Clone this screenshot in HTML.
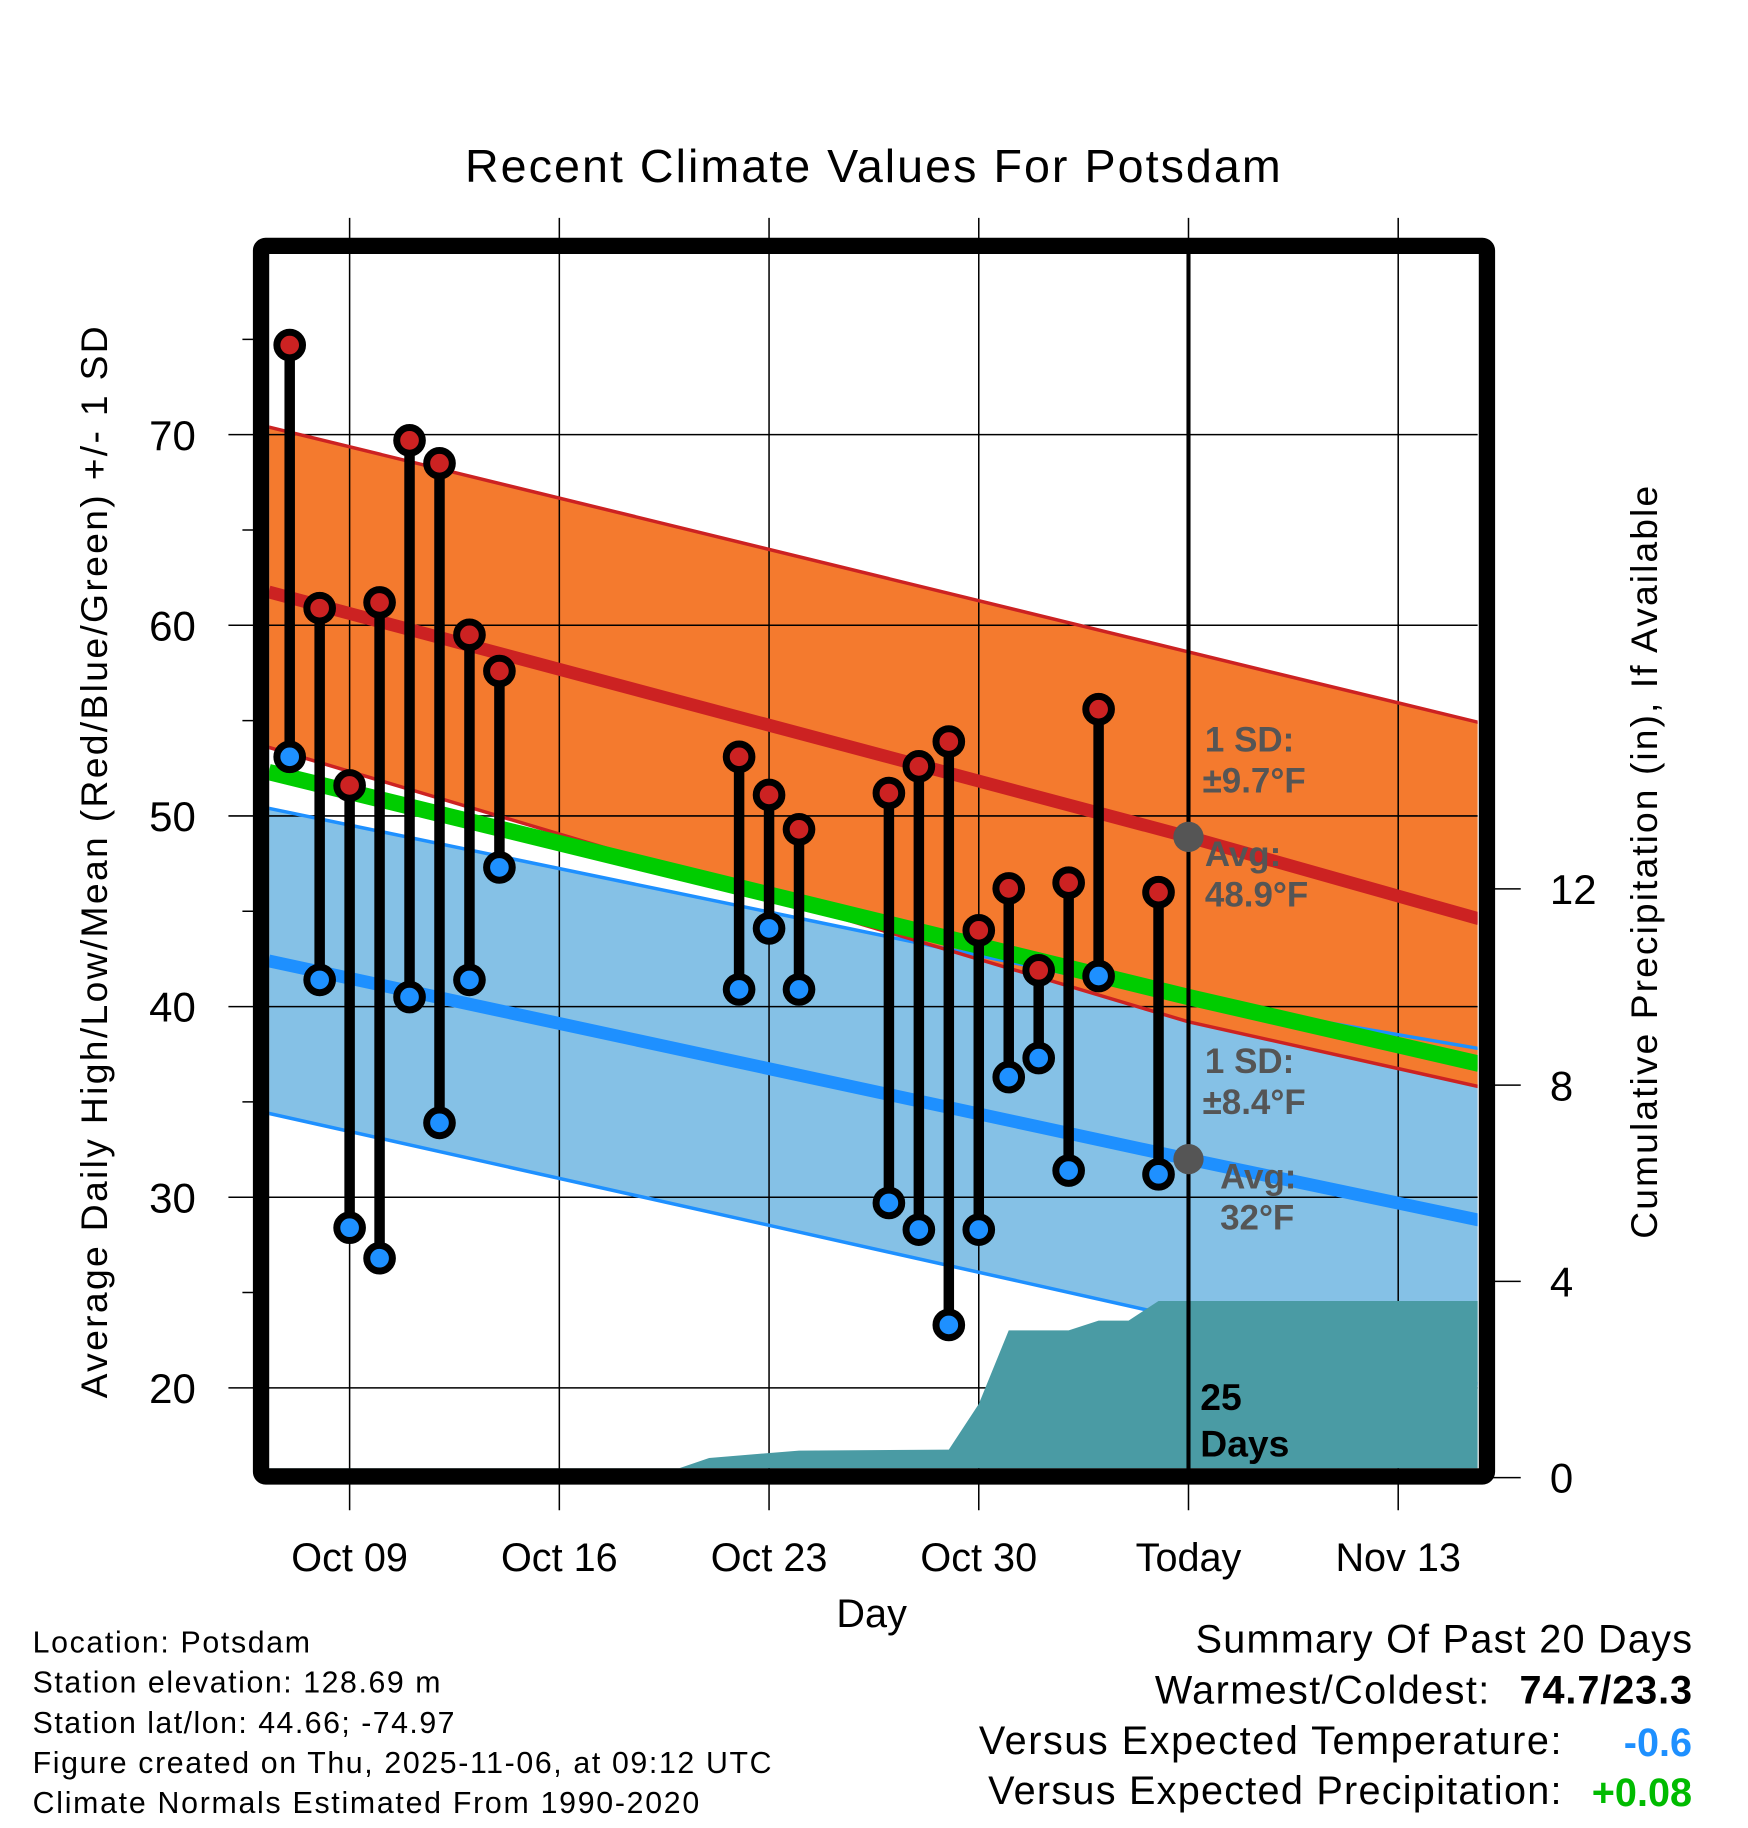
<!DOCTYPE html>
<html><head><meta charset="utf-8"><style>
html,body{margin:0;padding:0;background:#fff;}
svg{display:block;font-family:"Liberation Sans",Arial,sans-serif;}
</style></head><body>
<svg id="chart" width="1748" height="1828" viewBox="0 0 1500 1568.7" xmlns="http://www.w3.org/2000/svg">
<rect width="1500" height="1568.7" fill="#fff"/>
<defs><clipPath id="plotclip"><rect x="231" y="217" width="1037" height="1043"/></clipPath></defs>
<g id="fills" clip-path="url(#plotclip)"></g>
<g id="grid"></g>
<g id="lines" clip-path="url(#plotclip)"></g>
<g id="precip" clip-path="url(#plotclip)"></g>
<g id="marks"></g>
<g id="frame"></g>
<g id="labels"></g>
</svg>
<script>
// ---- data ----
var tickDays = [0, 7, 14, 21, 28, 35];
var tickLabels = ["Oct 09", "Oct 16", "Oct 23", "Oct 30", "Today", "Nov 13"];
var tempTicks = [20, 30, 40, 50, 60, 70];
var precipTicks = [0, 4, 8, 12];
var obsDays = [-2, -1, 0, 1, 2, 3, 4, 5, 13, 14, 15, 18, 19, 20, 21, 22, 23, 24, 25, 27];
var highs = [74.7, 60.9, 51.6, 61.2, 69.7, 68.5, 59.5, 57.6, 53.1, 51.1, 49.3, 51.2, 52.6, 53.9, 44.0, 46.2, 41.9, 46.5, 55.6, 46.0];
var lows = [53.1, 41.4, 28.4, 26.8, 40.5, 33.9, 41.4, 47.3, 40.9, 44.1, 40.9, 29.7, 28.3, 23.3, 28.3, 36.3, 37.3, 31.4, 41.6, 31.2];
var normDays = [-2.7, 28, 37.7];
var avgHigh = [61.75, 48.9, 44.6];
var upperHigh = [70.4, 58.6, 54.9];
var lowerHigh = [53.6, 39.2, 35.8];
var avgMean = [52.3, 40.5, 37.0];
var avgLow = [42.4, 32.0, 28.8];
var upperLow = [50.4, 40.4, 37.8];
var lowerLow = [34.4, 23.6, 20.2];
var precipDays = [-2.7, 3, 4, 11, 12, 13, 15, 20, 21, 22, 24, 25, 26, 27, 37.7];
var precipVals = [0, 0, 0.05, 0.05, 0.4, 0.45, 0.55, 0.57, 1.5, 3.0, 3.0, 3.2, 3.2, 3.6, 3.6];

// ---- axes ----
function xs(d){ return 300 + d * 25.71; }
function ys(t){ return 373 + (70 - t) * 16.36; }
function yp(p){ return 1268 - p * 42.1; }
var NS = "http://www.w3.org/2000/svg";
function mk(parent, tag, attrs){ var e = document.createElementNS(NS, tag); for (var k in attrs) e.setAttribute(k, attrs[k]); document.getElementById(parent).appendChild(e); return e; }
function linePts(vals){ return normDays.map(function(d,i){ return xs(d)+","+ys(vals[i]); }); }
function bandPath(a, b){ var p = linePts(a), q = linePts(b).reverse(); return "M" + p.join("L") + "L" + q.join("L") + "Z"; }

var e;
e = mk("fills", "path", {d: bandPath(upperLow, lowerLow), fill: "#85c1e6"});


e = mk("fills", "path", {d: bandPath(upperHigh, lowerHigh), fill: "#f47a2e"});


// precip
var pp = precipDays.map(function(d,i){ return xs(d)+","+Math.min(yp(precipVals[i]),1260); });
e = mk("precip", "path", {d: "M" + xs(precipDays[0]) + ",1262L" + pp.join("L") + "L" + xs(precipDays[precipDays.length-1]) + ",1262Z", fill: "#4a9ba4"});



// grid
tickDays.forEach(function(d){
  e = mk("grid", "line", {x1: xs(d), x2: xs(d), y1: 187, y2: 1296, stroke: "#000", "stroke-width": 1.3});
  
  
});
tempTicks.forEach(function(t){
  e = mk("grid", "line", {x1: 196, x2: 1268, y1: ys(t), y2: ys(t), stroke: "#000", "stroke-width": 1.3});
  
  
});
[25, 35, 45, 55, 65, 75].forEach(function(t){
  e = mk("grid", "line", {x1: 208, x2: 224, y1: ys(t), y2: ys(t), stroke: "#000", "stroke-width": 1.3});
  
  
});
precipTicks.forEach(function(p){
  e = mk("grid", "line", {x1: 1276, x2: 1305, y1: yp(p), y2: yp(p), stroke: "#000", "stroke-width": 1.3});
  
  
});

// normal lines
function pl(vals, color, w, name){
  e = mk("lines", "polyline", {points: linePts(vals).join(" "), fill: "none", stroke: color, "stroke-width": w});
  
  
}
pl(upperLow, "#1e90ff", 3, "low-upper-sd-line");
pl(lowerLow, "#1e90ff", 3, "low-lower-sd-line");
pl(upperHigh, "#cc2222", 3, "high-upper-sd-line");
pl(lowerHigh, "#cc2222", 3, "high-lower-sd-line");
pl(avgLow, "#1e90ff", 11, "avg-low-line");
pl(avgHigh, "#cc2222", 11, "avg-high-line");
pl(avgMean, "#00cc00", 14, "avg-mean-line");

// today line
e = mk("marks", "line", {x1: xs(28), x2: xs(28), y1: 217, y2: 1262, stroke: "#000", "stroke-width": 3.5});



// observations
obsDays.forEach(function(d,i){
  var x = xs(d);
  e = mk("marks", "line", {x1: x, x2: x, y1: ys(highs[i]), y2: ys(lows[i]), stroke: "#000", "stroke-width": 9});
  
  
  e = mk("marks", "circle", {cx: x, cy: ys(highs[i]), r: 11, fill: "#cc2222", stroke: "#000", "stroke-width": 6});
  
  
  e = mk("marks", "circle", {cx: x, cy: ys(lows[i]), r: 11, fill: "#1e90ff", stroke: "#000", "stroke-width": 6});
  
  
});
e = mk("marks", "circle", {cx: xs(28), cy: ys(avgHigh[1]), r: 13, fill: "#555"});


e = mk("marks", "circle", {cx: xs(28), cy: ys(avgLow[1]), r: 13, fill: "#555"});



// frame
e = mk("frame", "rect", {x: 224, y: 211, width: 1052, height: 1056, fill: "none", stroke: "#000", "stroke-width": 14, rx: 4});



// labels
function tx(s, attrs, name){
  e = mk("labels", "text", attrs); e.textContent = s;
  
  
  return e;
}
tx("Recent Climate Values For Potsdam", {x: 749, y: 156, "font-size": 40, "text-anchor": "middle", textLength: 700}, "chart-title");
tickDays.forEach(function(d,i){
  tx(tickLabels[i], {x: xs(d), y: 1348, "font-size": 34, "text-anchor": "middle"}, "x-tick-label");
});
tempTicks.forEach(function(t){
  tx(String(t), {x: 168, y: ys(t) + 13, "font-size": 36, "text-anchor": "end"}, "y-tick-label");
});
precipTicks.forEach(function(p){
  tx(String(p), {x: 1330, y: yp(p) + 13, "font-size": 36, "text-anchor": "start"}, "precip-tick-label");
});
tx("Day", {x: 748, y: 1396, "font-size": 34, "text-anchor": "middle"}, "x-axis-title");
tx("Average Daily High/Low/Mean (Red/Blue/Green) +/- 1 SD", {x: 0, y: 0, "font-size": 32, "text-anchor": "middle", textLength: 920, transform: "translate(92,740) rotate(-90)"}, "y-axis-title");
tx("Cumulative Precipitation (in), If Available", {x: 0, y: 0, "font-size": 32, "text-anchor": "middle", textLength: 646, transform: "translate(1422,740) rotate(-90)"}, "precip-axis-title");
var g = {fill: "#555", "font-size": 30, "font-weight": "bold"};
function ann(s, x, y, name){ var a = {x: x, y: y}; for (var k in g) a[k] = g[k]; return tx(s, a, name); }
ann("1 SD:", 1034, 645, "high-sd-label");
ann("±9.7°F", 1032, 680, "high-sd-value");
ann("Avg:", 1034, 743, "avg-high-label");
ann("48.9°F", 1034, 778, "avg-high-value");
ann("1 SD:", 1034, 921, "low-sd-label");
ann("±8.4°F", 1032, 956, "low-sd-value");
ann("Avg:", 1047, 1020, "avg-low-label");
ann("32°F", 1047, 1055, "avg-low-value");
tx("25", {x: 1030, y: 1210, "font-size": 32, "font-weight": "bold"}, "days-count");
tx("Days", {x: 1030, y: 1250, "font-size": 32, "font-weight": "bold"}, "days-label");
var info = ["Location: Potsdam", "Station elevation: 128.69 m", "Station lat/lon: 44.66; -74.97", "Figure created on Thu, 2025-11-06, at 09:12 UTC", "Climate Normals Estimated From 1990-2020"];
var infoW = [238, 350, 362, 634, 572];
info.forEach(function(s,i){ tx(s, {x: 28, y: 1418 + i * 34.5, "font-size": 26, textLength: infoW[i]}, "info-line"); });
tx("Summary Of Past 20 Days", {x: 1452, y: 1418, "font-size": 34, "text-anchor": "end", textLength: 426}, "summary-title");
tx("Warmest/Coldest:", {x: 1278, y: 1462, "font-size": 34, "text-anchor": "end", textLength: 287}, "warmest-coldest-label");
tx("74.7/23.3", {x: 1452, y: 1462, "font-size": 34, "font-weight": "bold", "text-anchor": "end", textLength: 148}, "warmest-coldest-value");
tx("Versus Expected Temperature:", {x: 1340, y: 1505, "font-size": 34, "text-anchor": "end", textLength: 500}, "temp-departure-label");
tx("-0.6", {x: 1452, y: 1507, "font-size": 34, "font-weight": "bold", fill: "#1e90ff", "text-anchor": "end"}, "temp-departure-value");
tx("Versus Expected Precipitation:", {x: 1340, y: 1548, "font-size": 34, "text-anchor": "end", textLength: 492}, "precip-departure-label");
tx("+0.08", {x: 1452, y: 1550, "font-size": 34, "font-weight": "bold", fill: "#00bb00", "text-anchor": "end"}, "precip-departure-value");
</script>
</body></html>
